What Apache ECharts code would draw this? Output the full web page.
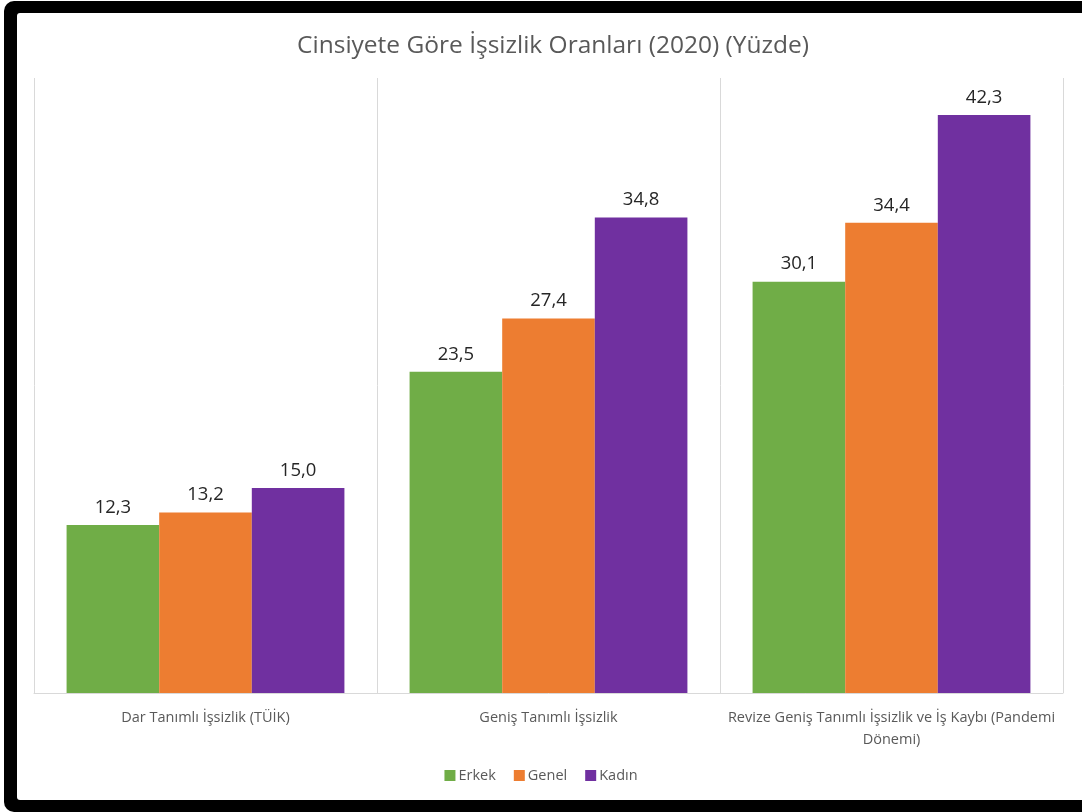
<!DOCTYPE html>
<html>
<head>
<meta charset="utf-8">
<script src="https://cdn.jsdelivr.net/npm/echarts@6/dist/echarts.min.js"></script>
<style>
html,body{margin:0;padding:0;background:#fff;overflow:hidden;}
#outer{position:absolute;left:4px;top:1px;width:1100px;height:811px;background:#000;border-radius:10px;}
#inner{position:absolute;left:17px;top:13px;width:1080px;height:787px;background:#fff;border-radius:3px;}
#chart{position:absolute;left:0;top:0;width:1082px;height:812px;}
</style>
</head>
<body>
<div id="outer"></div>
<div id="inner"></div>
<div id="chart"></div>
<script>
const titleText = 'Cinsiyete Göre İşsizlik Oranları (2020) (Yüzde)';
const categories = ['Dar Tanımlı İşsizlik (TÜİK)', 'Geniş Tanımlı İşsizlik', 'Revize Geniş Tanımlı İşsizlik ve İş Kaybı (Pandemi Dönemi)'];
const seriesNames = ['Erkek', 'Genel', 'Kadın'];
const erkek = [12.3, 23.5, 30.1];
const genel = [13.2, 27.4, 34.4];
const kadin = [15.0, 34.8, 42.3];
const colors = ['#70ad47', '#ed7d31', '#7030a0'];

const font = "'Open Sans', 'Noto Sans', sans-serif";
const chart = echarts.init(document.getElementById('chart'), null, {renderer: 'canvas'});
const values = [erkek, genel, kadin];

chart.setOption({
  backgroundColor: 'transparent',
  animation: false,
  title: {
    text: titleText,
    left: 548, top: 29, textAlign: 'center',
    textStyle: {fontFamily: font, fontSize: 24.5, fontWeight: 'normal', color: '#595959'}
  },
  legend: {
    data: seriesNames,
    left: 'center', top: 763,
    itemWidth: 11, itemHeight: 11, itemGap: 18,
    icon: 'rect',
    textStyle: {fontFamily: font, fontSize: 14.5, color: '#595959', padding: [0,0,0,-2]}
  },
  grid: {left: 34, right: 19, top: 78, bottom: 119, containLabel: false},
  xAxis: {
    type: 'category',
    data: categories,
    axisLine: {show: true, lineStyle: {color: '#d9d9d9', width: 1}},
    axisTick: {show: false},
    splitLine: {show: true, lineStyle: {color: '#d9d9d9', width: 1}},
    axisLabel: {
      fontFamily: font, fontSize: 14.5, color: '#595959', margin: 14,
      lineHeight: 22, interval: 0,
      formatter: v => v.replace(' Dönemi)', '\nDönemi)')
    }
  },
  yAxis: {
    type: 'value', min: 0, max: 45, interval: 5,
    show: false,
    splitLine: {show: false}
  },
  series: seriesNames.map((name, i) => ({
    name: name,
    type: 'bar',
    data: values[i],
    barGap: '0%',
    barCategoryGap: '19%',
    itemStyle: {color: colors[i]},
    label: {
      show: true, position: 'top', distance: 8,
      fontFamily: font, fontSize: 18.5, color: '#262626',
      formatter: p => p.value.toFixed(1).replace('.', ',')
    }
  }))
});
</script>
</body>
</html>
